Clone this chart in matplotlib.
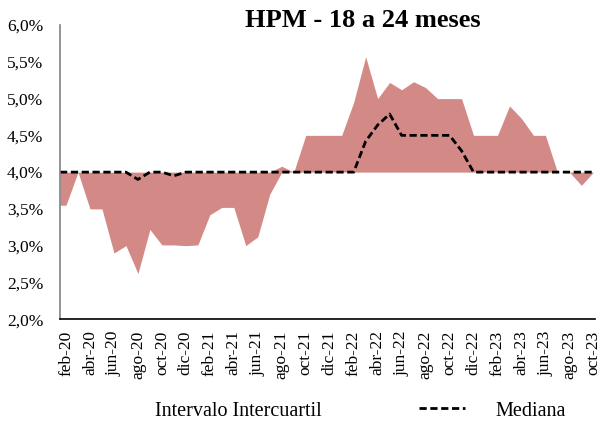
import numpy as np
import matplotlib
matplotlib.use("Agg")
import matplotlib.pyplot as plt
from matplotlib.patches import Patch
from matplotlib.lines import Line2D
from matplotlib.ticker import FuncFormatter

plt.rcParams['font.family'] = ['Liberation Serif', 'DejaVu Serif']

# meses feb-20 .. oct-23
meses = ['feb-20', 'mar-20', 'abr-20', 'may-20', 'jun-20', 'jul-20', 'ago-20', 'sep-20',
         'oct-20', 'nov-20', 'dic-20', 'ene-21', 'feb-21', 'mar-21', 'abr-21', 'may-21',
         'jun-21', 'jul-21', 'ago-21', 'sep-21', 'oct-21', 'nov-21', 'dic-21', 'ene-22',
         'feb-22', 'mar-22', 'abr-22', 'may-22', 'jun-22', 'jul-22', 'ago-22', 'sep-22',
         'oct-22', 'nov-22', 'dic-22', 'ene-23', 'feb-23', 'mar-23', 'abr-23', 'may-23',
         'jun-23', 'jul-23', 'ago-23', 'sep-23', 'oct-23']

p25 = [3.55, 4.00, 3.50, 3.50, 2.90, 3.00, 2.62, 3.22, 3.01, 3.01, 3.00, 3.01,
       3.42, 3.52, 3.52, 3.00, 3.12, 3.70, 4.00, 4.00, 4.00, 4.00, 4.00, 4.00,
       4.00, 4.00, 4.00, 4.00, 4.00, 4.00, 4.00, 4.00, 4.00, 4.00, 4.00, 4.00,
       4.00, 4.00, 4.00, 4.00, 4.00, 4.00, 4.00, 3.82, 4.00]

p75 = [4.00, 4.00, 4.00, 4.00, 4.00, 4.00, 4.00, 4.00, 4.00, 4.00, 4.00, 4.00,
       4.00, 4.00, 4.00, 4.00, 4.00, 4.00, 4.08, 4.00, 4.50, 4.50, 4.50, 4.50,
       4.95, 5.57, 5.00, 5.22, 5.12, 5.23, 5.15, 5.00, 5.00, 5.00, 4.50, 4.50,
       4.50, 4.90, 4.73, 4.50, 4.50, 4.00, 4.00, 4.00, 4.00]

mediana = [4.00, 4.00, 4.00, 4.00, 4.00, 4.00, 3.90, 4.00, 4.00, 3.95, 4.00, 4.00,
           4.00, 4.00, 4.00, 4.00, 4.00, 4.00, 4.00, 4.00, 4.00, 4.00, 4.00, 4.00,
           4.00, 4.42, 4.64, 4.79, 4.50, 4.50, 4.50, 4.50, 4.50, 4.29, 4.00, 4.00,
           4.00, 4.00, 4.00, 4.00, 4.00, 4.00, 4.00, 4.00, 4.00]

x = np.arange(len(meses))
x0 = -0.5
# extend first value to the left edge of the plot (as in the excel chart)
xe = np.r_[x0, x]
lo = np.r_[p25[0], p25]
hi = np.r_[p75[0], p75]
med = np.r_[mediana[0], mediana]

fig = plt.figure(figsize=(6.02, 4.25), dpi=100)
ax = fig.add_axes([0.0997, 0.249, 0.888, 0.692])

ax.fill_between(xe, lo, hi, color='#D38A87', linewidth=0)
ax.plot(xe, med, color='black', lw=2.0, ls=(0, (2.6, 1.3)))

ax.set_xlim(x0, 44.1)
ax.set_ylim(2.0, 6.0)
ax.set_yticks(np.arange(2.0, 6.01, 0.5))
ax.yaxis.set_major_formatter(FuncFormatter(lambda v, p: f"{v:.1f}%".replace('.', ',')))
ax.set_xticks(x[::2])
ax.set_xticklabels(meses[::2], rotation=90)
ax.tick_params(axis='both', length=0, labelsize=12.5)
ax.tick_params(axis='y', pad=12)
ax.tick_params(axis='x', pad=8)

for s in ['top', 'right']:
    ax.spines[s].set_visible(False)
ax.spines['left'].set_color('#808080')
ax.spines['left'].set_linewidth(1.2)
ax.spines['bottom'].set_color('black')
ax.spines['bottom'].set_linewidth(1.2)

fig.text(0.602, 0.952, 'HPM - 18 a 24 meses', ha='center', va='center',
         fontsize=19, fontweight='bold')

handles = [Patch(facecolor='none', edgecolor='none'),
           Line2D([], [], color='black', lw=2.0, ls=(0, (2.6, 1.3)))]
fig.legend(handles, ['Intervalo Intercuartil', 'Mediana'], loc='center',
           bbox_to_anchor=(0.535, 0.033), ncol=2, frameon=False, fontsize=14.5,
           handlelength=2.3, handletextpad=1.5, columnspacing=4.8)

fig.savefig('out.png', dpi=100)
